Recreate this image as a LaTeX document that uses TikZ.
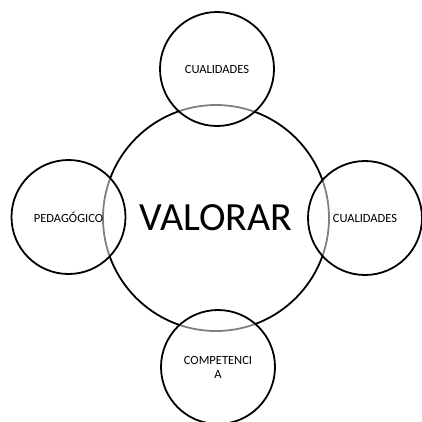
\documentclass[tikz,border=0pt]{standalone}
\usepackage{fontspec}
\setmainfont{Carlito}

\begin{document}
\begin{tikzpicture}[x=1pt,y=-1pt,
    centro/.style={circle,draw,line width=1.8pt,inner sep=0pt,minimum size=226pt,font=\fontsize{40}{44}\selectfont},
    rueda/.style={circle,draw,line width=1.8pt,inner sep=0pt,minimum size=114pt,fill=white,fill opacity=0.5,text opacity=1,align=center,font=\fontsize{12.5}{14}\selectfont}]
    \useasboundingbox (0,0) rectangle (422,421);
    \node[centro] (valorar) at (216,218) {VALORAR};
    \node[rueda] (arriba) at (217,69) {CUALIDADES};
    \node[rueda] (izquierda) at (68.5,217) {PEDAGÓGICO};
    \node[rueda] (derecha) at (365,218) {CUALIDADES};
    \node[rueda] (abajo) at (218,367) {COMPETENCI\\A};
\end{tikzpicture}
\end{document}
